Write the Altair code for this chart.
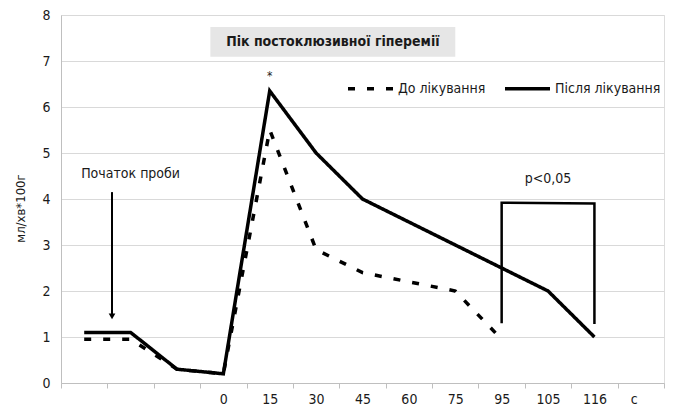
import json
import altair as alt
import pandas as pd

# ---- data ----
categories = ["", "", "", "0", "15", "30", "45", "60", "75", "95", "105", "116", "c"]
series_names = ["До лікування", "Після лікування"]
before_values = [0.95, 0.95, 0.3, 0.2, 5.5, 2.9, 2.4, 2.2, 2.0, 0.95]
after_values = [1.1, 1.1, 0.3, 0.2, 6.35, 5.0, 4.0, 3.5, 3.0, 2.5, 2.0, 1.0]
y_ticks = [0, 1, 2, 3, 4, 5, 6, 7, 8]

bracket_cats = ["95", "95", "116", "116"]
bracket_values = [1.3, 3.92, 3.9, 1.28]
p_text = "p<0,05"
p_cat = "105"
p_value = 4.43
star_cat = "15"
star_value = 6.67
start_text = "Початок проби"
start_text_pos = 1.5
start_text_value = 4.54
arrow_pos = 1.1
arrow_top = 4.15
arrow_tip = 1.36
box_title = "Пік постоклюзивної гіперемії"
box_x = [3.22, 8.5]
box_y = [7.09, 7.74]

FONT = "Liberation Sans Narrow, Arial Narrow, DejaVu Sans Condensed, Roboto, sans-serif"
TXT = "#1a1a1a"
N = len(categories)
PLOT_W = 603
PLOT_H = 368


def pos(cat):
    return categories.index(cat) + 0.5


rows = []
for i, v in enumerate(before_values):
    rows.append({"series": series_names[0], "x": i + 0.5, "y": v})
for i, v in enumerate(after_values):
    rows.append({"series": series_names[1], "x": i + 0.5, "y": v})
lines_df = pd.DataFrame(rows)

xscale = alt.Scale(domain=[0, N], nice=False, zero=False)
yscale = alt.Scale(domain=[0, 8], nice=False)

label_arr = json.dumps(categories + [""], ensure_ascii=False)
half_band = PLOT_W / N / 2

x_axis = alt.Axis(
    values=list(range(N + 1)),
    labelExpr=f"{label_arr}[datum.value]",
    labelOffset=alt.ConditionalAxisNumber(
        condition={"test": f"datum.value == {N - 1}", "value": half_band - 7},
        value=half_band,
    ),
    labelFlush=False,
    labelBound=False,
    labelOverlap=False,
    grid=False,
    tickSize=5,
    tickColor="#bfbfbf",
    domainColor="#bfbfbf",
    labelPadding=4,
    labelFont=FONT,
    labelFontSize=14,
    labelColor=TXT,
    title=None,
)
y_axis = alt.Axis(
    values=y_ticks,
    grid=True,
    gridColor="#d9d9d9",
    domainColor="#bfbfbf",
    ticks=False,
    labelPadding=11,
    labelFont=FONT,
    labelFontSize=14,
    labelColor=TXT,
    title="мл/хв*100г",
    titleFont=FONT,
    titleFontSize=13,
    titleFontWeight="normal",
    titleColor=TXT,
    titleAngle=-90,
    titleX=-41,
    titleY=193,
    titleAlign="center",
    titleBaseline="middle",
)

lines = alt.Chart(lines_df).mark_line(color="black", strokeWidth=3.5, strokeCap="butt").encode(
    x=alt.X("x:Q", scale=xscale, axis=x_axis),
    y=alt.Y("y:Q", scale=yscale, axis=y_axis),
    strokeDash=alt.StrokeDash(
        "series:N",
        scale=alt.Scale(domain=series_names, range=[[7, 12], [1, 0]]),
        legend=alt.Legend(
            title=None,
            orient="none",
            direction="horizontal",
            legendX=285,
            legendY=49,
            symbolType="stroke",
            symbolSize=2025,
            symbolStrokeWidth=3.5,
            symbolStrokeColor="black",
            labelFont=FONT,
            labelFontSize=14,
            labelColor=TXT,
            labelOffset=3,
            columnPadding=12,
        ),
    ),
)

box_df = pd.DataFrame({"x": [box_x[0]], "x2": [box_x[1]], "y": [box_y[0]], "y2": [box_y[1]]})
box = alt.Chart(box_df).mark_rect(fill="#e6e6e6").encode(
    x=alt.X("x:Q", scale=xscale), x2="x2:Q",
    y=alt.Y("y:Q", scale=yscale), y2="y2:Q",
)
box_text = alt.Chart(pd.DataFrame({
    "x": [(box_x[0] + box_x[1]) / 2], "y": [(box_y[0] + box_y[1]) / 2], "t": [box_title]
})).mark_text(font=FONT, fontSize=14, fontWeight="bold", color=TXT, baseline="middle").encode(
    x=alt.X("x:Q", scale=xscale), y=alt.Y("y:Q", scale=yscale), text="t:N"
)

bracket_df = pd.DataFrame({
    "x": [pos(c) for c in bracket_cats], "y": bracket_values, "o": list(range(len(bracket_cats)))
})
bracket = alt.Chart(bracket_df).mark_line(color="black", strokeWidth=2.5, strokeJoin="miter").encode(
    x=alt.X("x:Q", scale=xscale), y=alt.Y("y:Q", scale=yscale), order="o:Q"
)

texts_df = pd.DataFrame({
    "x": [pos(p_cat), start_text_pos],
    "y": [p_value, start_text_value],
    "t": [p_text, start_text],
})
texts = alt.Chart(texts_df).mark_text(font=FONT, fontSize=14, color=TXT, baseline="middle").encode(
    x=alt.X("x:Q", scale=xscale), y=alt.Y("y:Q", scale=yscale), text="t:N"
)
star = alt.Chart(pd.DataFrame({"x": [pos(star_cat)], "y": [star_value], "t": ["*"]})).mark_text(
    font=FONT, fontSize=12, color=TXT, baseline="middle"
).encode(x=alt.X("x:Q", scale=xscale), y=alt.Y("y:Q", scale=yscale), text="t:N")

arrow_df = pd.DataFrame({"x": [arrow_pos], "y": [arrow_top], "y2": [arrow_tip + 0.12]})
arrow_line = alt.Chart(arrow_df).mark_rule(color="black", strokeWidth=2).encode(
    x=alt.X("x:Q", scale=xscale), y=alt.Y("y:Q", scale=yscale), y2="y2:Q"
)
arrow_head = alt.Chart(pd.DataFrame({"x": [arrow_pos], "y": [arrow_tip + 0.09]})).mark_point(
    shape="triangle-down", filled=True, color="black", size=45, opacity=1
).encode(x=alt.X("x:Q", scale=xscale), y=alt.Y("y:Q", scale=yscale))

chart = alt.layer(
    box, box_text, lines, bracket, texts, star, arrow_line, arrow_head
).properties(
    width=PLOT_W, height=PLOT_H,
    autosize=alt.AutoSizeParams(type="none"),
    padding={"left": 53, "top": 7, "right": 1, "bottom": 24},
).configure_view(stroke=None).configure(background="white")

chart.save("out.html", embed_options={"renderer": "svg", "actions": False})
